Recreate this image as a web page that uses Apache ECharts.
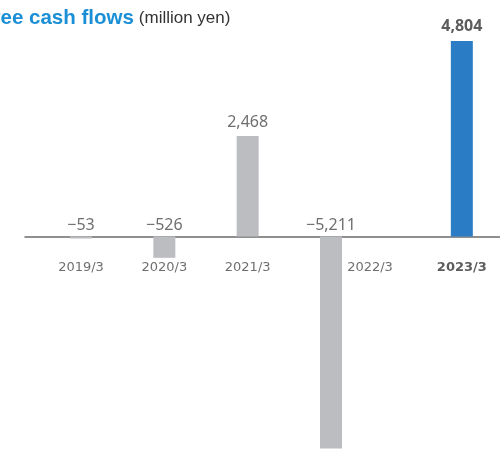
<!DOCTYPE html>
<html>
<head>
<meta charset="utf-8">
<script src="https://cdn.jsdelivr.net/npm/echarts@6/dist/echarts.min.js"></script>
<style>
  html, body { margin: 0; padding: 0; background: #fff; }
  #chart { width: 500px; height: 450px; }
</style>
</head>
<body>
<div id="chart"></div>
<script>
// Fiscal years and free cash flow (million yen)
const categories = ['2019/3', '2020/3', '2021/3', '2022/3', '2023/3'];
const freeCashFlow = [-53, -526, 2468, -5211, 4804];
const titleText = 'Free cash flows';
const unitText = '(million yen)';

const latest = categories.length - 1;
// the latest year sits a little further out to set it apart
const slot = i => i + (i === latest ? 0.57 : 0);

function fmt(v) {
  const s = Math.abs(v).toString().replace(/\B(?=(\d{3})+(?!\d))/g, ',');
  return (v < 0 ? '\u2212' : '') + s;
}

const chart = echarts.init(document.getElementById('chart'), null, { renderer: 'canvas' });

const barData = freeCashFlow.map((v, i) => ({
  value: [slot(i), v],
  itemStyle: { color: i === latest ? '#2a7dc4' : '#bcbdc1' }
}));

const valueLabels = freeCashFlow.map((v, i) => ({
  value: [slot(i), Math.max(v, 0)],
  label: {
    formatter: fmt(v),
    distance: v >= 0 ? 6 : 3,
    fontWeight: i === latest ? 'bold' : 'normal',
    color: i === latest ? '#333' : '#4a4a4a'
  }
}));

const categoryLabels = categories.map((c, i) => ({
  value: [slot(i), 0],
  label: {
    formatter: c,
    // the long negative bar pushes its year label to the side
    offset: freeCashFlow[i] < -3000 ? [39, 0] : [0, 0],
    fontWeight: i === latest ? 'bold' : 'normal',
    color: i === latest ? '#333' : '#4a4a4a'
  }
}));

chart.setOption({
  animation: false,
  title: {
    text: '{t|' + titleText + '} {u|' + unitText + '}',
    left: -20,
    top: 8,
    padding: 0,
    textStyle: {
      fontFamily: 'Liberation Sans',
      fontWeight: 'normal',
      rich: {
        t: { fontFamily: 'Liberation Sans', fontSize: 20.5, fontWeight: 'bold', color: '#1a8fd6' },
        u: { fontFamily: 'Liberation Sans', fontSize: 17, fontWeight: 'normal', color: '#333' }
      }
    }
  },
  grid: { left: 25, right: 0, top: 0, bottom: 0, containLabel: false },
  xAxis: {
    type: 'value',
    min: -0.672,
    max: 5.028,
    axisLine: { show: true, onZero: true, lineStyle: { color: '#6b6b6b', width: 1.5 } },
    axisTick: { show: false },
    axisLabel: { show: false },
    splitLine: { show: false }
  },
  yAxis: {
    type: 'value',
    min: -5250,
    max: 5810,
    show: false,
    splitLine: { show: false }
  },
  series: [
    {
      type: 'bar',
      barWidth: 22,
      data: barData,
      z: 1
    },
    {
      type: 'scatter',
      symbolSize: 0,
      data: valueLabels,
      label: { show: true, position: 'top', fontFamily: 'Noto Sans', fontSize: 16 },
      z: 3
    },
    {
      type: 'scatter',
      symbolSize: 0,
      data: categoryLabels,
      label: { show: true, position: 'bottom', distance: 25, fontFamily: 'DejaVu Sans', fontSize: 13 },
      z: 3
    }
  ]
});
</script>
</body>
</html>
